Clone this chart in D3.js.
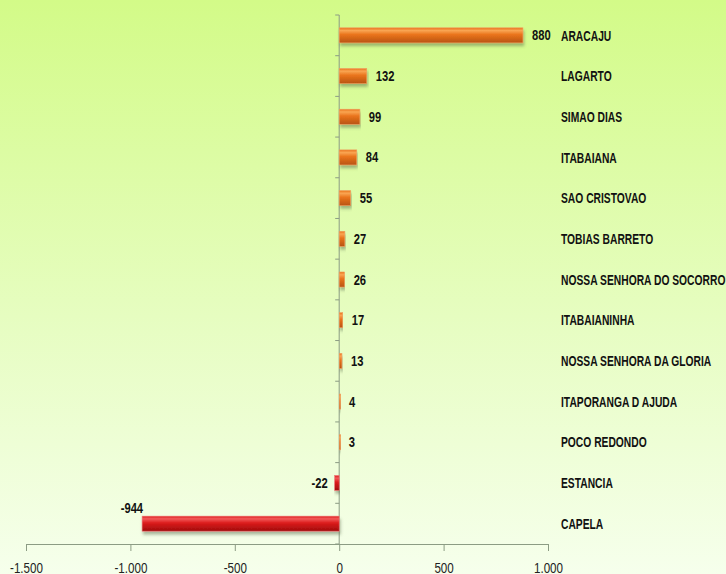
<!DOCTYPE html>
<html>
<head>
<meta charset="utf-8">
<script src="https://cdn.jsdelivr.net/npm/d3@7/dist/d3.min.js"></script>
<style>
  html, body { margin: 0; padding: 0; }
  body { width: 726px; height: 574px; overflow: hidden; }
  text { font-family: "Liberation Sans", Arial, sans-serif; }
</style>
</head>
<body>
<div id="container"></div>
<script>
const width = 726, height = 574;

// --- Data ---------------------------------------------------------------
const cities = [
  "ARACAJU", "LAGARTO", "SIMAO DIAS", "ITABAIANA", "SAO CRISTOVAO",
  "TOBIAS BARRETO", "NOSSA SENHORA DO SOCORRO", "ITABAIANINHA",
  "NOSSA SENHORA DA GLORIA", "ITAPORANGA D AJUDA", "POCO REDONDO",
  "ESTANCIA", "CAPELA"
];
const values = [880, 132, 99, 84, 55, 27, 26, 17, 13, 4, 3, -22, -944];
const xTicks = [-1500, -1000, -500, 0, 500, 1000];

const rows = cities.map((c, i) => ({ city: c, value: values[i] }));

// --- Scales -------------------------------------------------------------
const x = d3.scaleLinear().domain([-1500, 1000]).range([26, 548]);
const y = d3.scaleBand().domain(cities).range([15, 544]).paddingInner(0.63).paddingOuter(0.315);
const fmt = d3.formatLocale({ decimal: ",", thousands: ".", grouping: [3], currency: ["R$", ""], minus: "-" }).format(",d");

// Calibri-like narrow look: squeeze Liberation Sans horizontally
const SQ_CAT = 0.71, SQ_VAL = 0.8, SQ_REG = 0.83;

const svg = d3.select("#container").append("svg").attr("width", width).attr("height", height);
const defs = svg.append("defs");

const bg = defs.append("linearGradient").attr("id", "bg").attr("x1", 0).attr("y1", 0).attr("x2", 0).attr("y2", 1);
bg.append("stop").attr("offset", "0%").attr("stop-color", "#d3fb88");
bg.append("stop").attr("offset", "55%").attr("stop-color", "#e6fdc0");
bg.append("stop").attr("offset", "100%").attr("stop-color", "#f6ffec");

function barGrad(id, light, mid, dark) {
  const g = defs.append("linearGradient").attr("id", id).attr("x1", 0).attr("y1", 0).attr("x2", 0).attr("y2", 1);
  g.append("stop").attr("offset", "0%").attr("stop-color", mid);
  g.append("stop").attr("offset", "18%").attr("stop-color", light);
  g.append("stop").attr("offset", "45%").attr("stop-color", mid);
  g.append("stop").attr("offset", "100%").attr("stop-color", dark);
}
barGrad("gPos", "#f9a552", "#ea741c", "#b85410");
barGrad("gNeg", "#f25a5a", "#dc1c1c", "#a00c0c");

const shadow = defs.append("filter").attr("id", "shadow").attr("x", "-5%").attr("y", "-30%").attr("width", "110%").attr("height", "180%");
shadow.append("feDropShadow").attr("dx", 1).attr("dy", 3).attr("stdDeviation", 1.5)
  .attr("flood-color", "#506040").attr("flood-opacity", 0.45);

svg.append("rect").attr("width", width).attr("height", height).attr("fill", "url(#bg)");

// --- Axes ---------------------------------------------------------------
const axisColor = "#8c9c84";
const xAxis = svg.append("g").attr("transform", "translate(0,544)")
  .call(d3.axisBottom(x).tickValues(xTicks).tickSize(7).tickPadding(0).tickFormat(fmt));
xAxis.select(".domain").attr("stroke", axisColor);
xAxis.selectAll("line").attr("stroke", axisColor);
xAxis.selectAll("text")
  .attr("y", 0).attr("dy", 0)
  .attr("transform", `translate(0,29) scale(${SQ_REG},1)`)
  .attr("fill", "#222").style("font-size", "14px")
  .style("font-family", "'Liberation Sans', Arial, sans-serif");

// vertical category axis at zero with ticks on band boundaries
const bounds = cities.map(c => y(c) - y.step() * y.paddingInner() / 2).concat([544]);
svg.append("line").attr("x1", x(0)).attr("x2", x(0)).attr("y1", 15).attr("y2", 544).attr("stroke", axisColor);
svg.selectAll("line.ytick").data(bounds).join("line").attr("class", "ytick")
  .attr("x1", x(0) - 4).attr("x2", x(0)).attr("y1", d => d).attr("y2", d => d).attr("stroke", axisColor);

// --- Bars ---------------------------------------------------------------
svg.selectAll("rect.bar").data(rows).join("rect").attr("class", "bar")
  .attr("x", d => Math.min(x(0), x(d.value)))
  .attr("y", d => y(d.city))
  .attr("width", d => Math.max(1.5, Math.abs(x(d.value) - x(0))))
  .attr("height", y.bandwidth())
  .attr("fill", d => d.value < 0 ? "url(#gNeg)" : "url(#gPos)")
  .attr("stroke", d => d.value < 0 ? "#f08080" : "#f0a060")
  .attr("stroke-width", 0.6)
  .attr("filter", "url(#shadow)");

// --- Value labels -------------------------------------------------------
const valX = d => d.value >= 0 ? x(d.value) + 9 : (d.value < -500 ? x(d.value) + 1 : x(d.value) - 7);
const valY = d => d.value < -500 ? y(d.city) - 8 : y(d.city) + y.bandwidth() / 2;
svg.selectAll("text.val").data(rows).join("text").attr("class", "val")
  .attr("transform", d => `translate(${valX(d)},${valY(d)}) scale(${SQ_VAL},1)`)
  .attr("dy", "0.36em")
  .attr("text-anchor", d => d.value >= 0 ? "start" : "end")
  .attr("fill", "#111")
  .style("font-size", "14px")
  .style("font-weight", "bold")
  .text(d => fmt(d.value));

// --- Category labels ----------------------------------------------------
svg.selectAll("text.cat").data(rows).join("text").attr("class", "cat")
  .attr("transform", d => `translate(561,${y(d.city) + y.bandwidth() / 2}) scale(${SQ_CAT},1)`)
  .attr("dy", "0.36em")
  .attr("fill", "#111")
  .style("font-size", "14.5px")
  .style("font-weight", "bold")
  .text(d => d.city);
</script>
</body>
</html>
